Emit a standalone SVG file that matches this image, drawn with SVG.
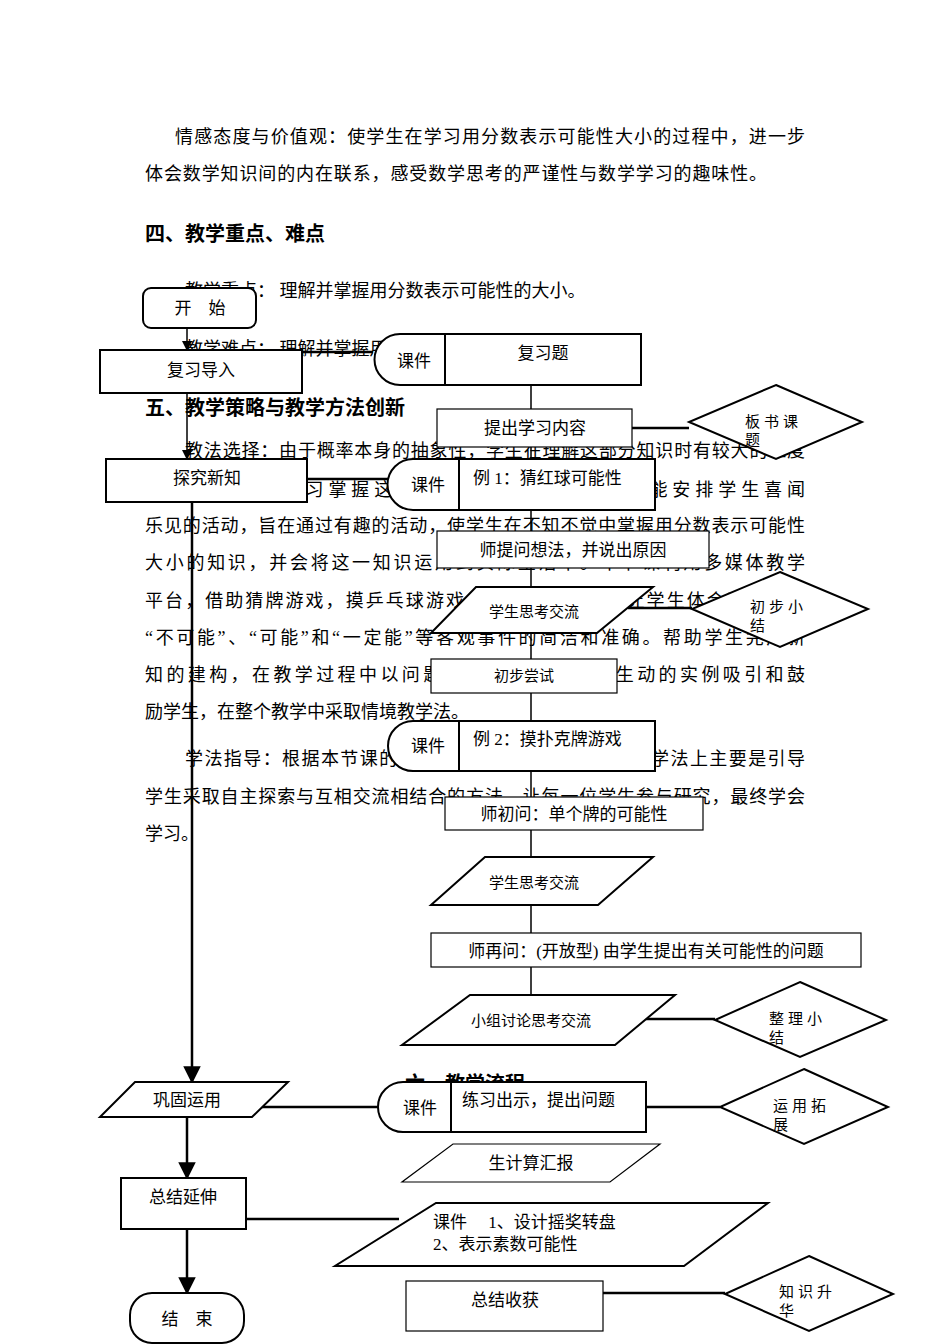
<svg xmlns="http://www.w3.org/2000/svg" width="950" height="1344" viewBox="0 0 950 1344">
<style>
text{font-family:"Liberation Serif","Noto Sans CJK SC",serif;fill:#000}
.p{font-size:18px}
.h{font-size:20px;font-weight:bold}
.n{font-size:17px}
.s{font-size:15px}
.d{font-size:15px;letter-spacing:4px}
.b{fill:#fff;stroke:#000;stroke-width:2}
.t{fill:#fff;stroke:#000;stroke-width:1.2}
.c{stroke:#000;stroke-width:1.5;fill:none}
.k{stroke:#000;stroke-width:2.5;fill:none}
</style>
<defs><marker id="a" viewBox="0 0 10 10" refX="9" refY="5" markerWidth="7" markerHeight="7" orient="auto"><path d="M0,0L10,5L0,10z"/></marker></defs>
<rect width="950" height="1344" fill="#fff"/>
<g id="background-text">
<text class="p" x="175" y="143" textLength="630" lengthAdjust="spacing">情感态度与价值观：使学生在学习用分数表示可能性大小的过程中，进一步</text>
<text class="p" x="145" y="180" textLength="622" lengthAdjust="spacing">体会数学知识间的内在联系，感受数学思考的严谨性与数学学习的趣味性。</text>
<text class="h" x="145" y="241">四、教学重点、难点</text>
<text class="p" x="185" y="297">教学重点：  理解并掌握用分数表示可能性的大小。</text>
<text class="p" x="185" y="355">教学难点：  理解并掌握用分数表示可能性大小的方法。</text>
<text class="h" x="145" y="415">五、教学策略与教学方法创新</text>
<text class="p" x="185" y="457" textLength="620" lengthAdjust="spacing">教法选择：由于概率本身的抽象性，学生在理解这部分知识时有较大的难度</text>
<text class="p" x="145" y="496" textLength="660" lengthAdjust="spacing">，为了使学生学习掌握这部分知识，在教学中尽可能安排学生喜闻</text>
<text class="p" x="145" y="532" textLength="660" lengthAdjust="spacing">乐见的活动，旨在通过有趣的活动，使学生在不知不觉中掌握用分数表示可能性</text>
<text class="p" x="145" y="569" textLength="660" lengthAdjust="spacing">大小的知识，并会将这一知识运用到实际生活中。本节课利用多媒体教学</text>
<text class="p" x="145" y="607" textLength="660" lengthAdjust="spacing">平台，借助猜牌游戏，摸乒乓球游戏，以活动为主线，让学生体会到用分数</text>
<text class="p" x="145" y="644" textLength="660" lengthAdjust="spacing">“不可能”、“可能”和“一定能”等客观事件的简洁和准确。帮助学生完成新</text>
<text class="p" x="145" y="681" textLength="660" lengthAdjust="spacing">知的建构，在教学过程中以问题方式层层深入，以生动的实例吸引和鼓</text>
<text class="p" x="145" y="718">励学生，在整个教学中采取情境教学法。</text>
<text class="p" x="185" y="765" textLength="620" lengthAdjust="spacing">学法指导：根据本节课的内容特点和学生的认知规律，学法上主要是引导</text>
<text class="p" x="145" y="803" textLength="660" lengthAdjust="spacing">学生采取自主探索与互相交流相结合的方法，让每一位学生参与研究，最终学会</text>
<text class="p" x="145" y="840">学习。</text>
<text class="h" x="405" y="1091">六、教学流程</text>
</g>
<g id="connectors">
<path class="c" marker-end="url(#a)" d="M187,328V350"/>
<path class="c" marker-end="url(#a)" d="M187,393V459"/>
<path class="k" marker-end="url(#a)" d="M192,497V1082"/>
<path class="k" marker-end="url(#a)" d="M187,1117V1178"/>
<path class="k" marker-end="url(#a)" d="M187,1229V1293"/>
<path class="k" d="M302,352H373"/>
<path class="k" d="M306,479H388"/>
<path class="k" d="M261,1107H378"/>
<path class="k" d="M243,1219H399"/>
<path class="c" d="M531,385V409M531,447V459M531,510V531M531,568V587M531,633V659M531,693V721M531,771V797M531,830V857M531,905V933M531,967V995"/>
<path class="k" d="M632,428H689"/>
<path class="k" d="M628,608H692"/>
<path class="k" d="M646,1019H715"/>
<path class="k" d="M646,1107H720"/>
<path class="k" d="M603,1293H725"/>
</g>
<g id="start"><rect class="b" x="143" y="288" width="113" height="40" rx="8"/><text class="n" x="200" y="314" text-anchor="middle">开　始</text></g>
<g id="review"><rect class="b" x="100" y="350" width="202" height="43"/><text class="n" x="201" y="376" text-anchor="middle">复习导入</text></g>
<g id="kj1"><path class="b" d="M400,334H641V385H400A25.5,25.5 0 0 1 400,334Z"/><path class="b" d="M445,334V385"/><text class="n" x="414" y="367" text-anchor="middle">课件</text><text class="n" x="543" y="359" text-anchor="middle">复习题</text></g>
<g id="content"><rect class="t" x="437" y="409" width="195" height="38"/><text class="n" x="535" y="434" text-anchor="middle">提出学习内容</text></g>
<g id="bs"><path class="b" d="M776,385L862,422L776,459L689,422Z"/><text class="d" x="745" y="427">板书课</text><text class="d" x="745" y="445">题</text></g>
<g id="explore"><rect class="b" x="106" y="459" width="201" height="43"/><text class="n" x="207" y="484" text-anchor="middle">探究新知</text></g>
<g id="kj2"><path class="b" d="M413,459H655V510H413A25.5,25.5 0 0 1 413,459Z"/><path class="b" d="M459,459V510"/><text class="n" x="428" y="491" text-anchor="middle">课件</text><text class="n" x="473" y="484">例 1：猜红球可能性</text></g>
<g id="q1"><rect class="t" x="437" y="531" width="272" height="37"/><text class="n" x="573" y="556" text-anchor="middle">师提问想法，并说出原因</text></g>
<g id="think1"><path class="b" d="M476,587H653L597,633H431Z"/><text class="s" x="534" y="617" text-anchor="middle">学生思考交流</text></g>
<g id="cb"><path class="b" d="M780,572L868,609L780,647L692,609Z"/><text class="d" x="750" y="612">初步小</text><text class="d" x="750" y="631">结</text></g>
<g id="try"><rect class="t" x="431" y="659" width="186" height="34"/><text class="s" x="524" y="681" text-anchor="middle">初步尝试</text></g>
<g id="kj3"><path class="b" d="M413,721H655V771H413A25,25 0 0 1 413,721Z"/><path class="b" d="M459,721V771"/><text class="n" x="428" y="752" text-anchor="middle">课件</text><text class="n" x="473" y="745">例 2：摸扑克牌游戏</text></g>
<g id="q2"><rect class="t" x="445" y="797" width="258" height="33"/><text class="n" x="574" y="820" text-anchor="middle">师初问：单个牌的可能性</text></g>
<g id="think2"><path class="b" d="M485,857H653L598,905H431Z"/><text class="s" x="534" y="888" text-anchor="middle">学生思考交流</text></g>
<g id="q3"><rect class="t" x="431" y="933" width="430" height="34"/><text class="n" x="646" y="957" text-anchor="middle">师再问：(开放型) 由学生提出有关可能性的问题</text></g>
<g id="group"><path class="b" d="M470,995H675L615,1045H402Z"/><text class="s" x="531" y="1026" text-anchor="middle">小组讨论思考交流</text></g>
<g id="zl"><path class="b" d="M800,982L886,1020L800,1057L715,1020Z"/><text class="d" x="769" y="1024">整理小</text><text class="d" x="769" y="1043">结</text></g>
<g id="consolidate"><path class="b" d="M135,1082H288L252,1117H100Z"/><text class="n" x="187" y="1106" text-anchor="middle">巩固运用</text></g>
<g id="kj4"><path class="b" d="M403,1082H646V1132H403A25,25 0 0 1 403,1082Z"/><path class="b" d="M451,1082V1132"/><text class="n" x="420" y="1114" text-anchor="middle">课件</text><text class="n" x="462" y="1106">练习出示，提出问题</text></g>
<g id="yy"><path class="b" d="M804,1069L888,1107L804,1144L720,1107Z"/><text class="d" x="773" y="1111">运用拓</text><text class="d" x="773" y="1130">展</text></g>
<g id="calc"><path class="t" d="M453,1144H660L610,1182H402Z"/><text class="n" x="531" y="1169" text-anchor="middle">生计算汇报</text></g>
<g id="summary"><rect class="b" x="121" y="1178" width="125" height="51"/><text class="n" x="183" y="1203" text-anchor="middle">总结延伸</text></g>
<g id="kj5"><path class="b" d="M436,1203H768L684,1266H335Z"/><text class="n" x="433" y="1228">课件　 1、设计摇奖转盘</text><text class="n" x="433" y="1250">2、表示素数可能性</text></g>
<g id="end"><rect class="b" x="130" y="1293" width="114" height="50" rx="22"/><text class="n" x="187" y="1325" text-anchor="middle">结　束</text></g>
<g id="harvest"><rect class="t" x="406" y="1281" width="197" height="50"/><text class="n" x="505" y="1306" text-anchor="middle">总结收获</text></g>
<g id="zs"><path class="b" d="M809,1256L893,1294L809,1331L725,1294Z"/><text class="d" x="779" y="1297">知识升</text><text class="d" x="779" y="1316">华</text></g>
</svg>
